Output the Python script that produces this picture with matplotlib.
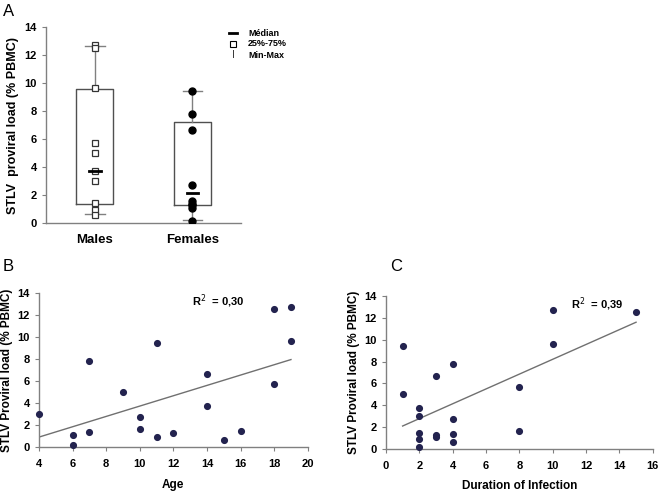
import numpy as np
import matplotlib
matplotlib.use("Agg")
import matplotlib.pyplot as plt

plt.rcParams['font.family'] = ['Liberation Sans', 'DejaVu Sans']

# Panel A: proviral load by sex
males = [12.7, 12.55, 9.65, 5.7, 5.0, 3.75, 3.0, 1.45, 0.95, 0.6]
females = [9.45, 7.8, 6.65, 2.75, 1.6, 1.35, 1.3, 1.1, 0.15]
groups = ['Males', 'Females']
box_q1 = [1.4, 1.28]
box_q3 = [9.6, 7.2]
box_med = [3.75, 2.15]
box_min = [0.65, 0.2]
box_max = [12.65, 9.42]

# Panel B: load vs age
age = [4, 6, 6, 7, 7, 9, 10, 10, 11, 11, 12, 14, 14, 15, 16, 18, 18, 19, 19]
load_age = [3.0, 1.1, 0.15, 7.8, 1.35, 5.0, 2.75, 1.6, 9.45, 0.95, 1.3, 6.65,
            3.75, 0.6, 1.45, 12.55, 5.7, 12.7, 9.65]
fit_age_x = [4, 19]
fit_age_y = [0.9, 7.95]

# Panel C: load vs duration of infection
duration = [1, 1, 2, 2, 2, 2, 2, 3, 3, 3, 4, 4, 4, 4, 8, 8, 10, 10, 15]
load_dur = [9.45, 5.0, 3.75, 3.0, 1.45, 0.95, 0.15, 6.65, 1.3, 1.1, 7.8, 2.75,
            1.35, 0.6, 5.7, 1.6, 12.7, 9.65, 12.55]
fit_dur_x = [1, 15]
fit_dur_y = [2.1, 11.6]

spine_col = '#808080'
dot_col = '#23234f'
line_col = '#707070'

fig = plt.figure(figsize=(6.62, 4.95), dpi=100)


def style(ax):
    for s in ['top', 'right']:
        ax.spines[s].set_visible(False)
    for s in ['left', 'bottom']:
        ax.spines[s].set_color(spine_col)
        ax.spines[s].set_linewidth(1.0)
    ax.tick_params(colors=spine_col, length=3, width=0.8, labelsize=8)
    for lab in ax.get_xticklabels() + ax.get_yticklabels():
        lab.set_fontweight('bold')
        lab.set_color('black')


# ---- A ----
axA = fig.add_axes([0.0695, 0.549, 0.295, 0.396])
stats = []
for i in range(2):
    stats.append(dict(med=box_med[i], q1=box_q1[i], q3=box_q3[i],
                      whislo=box_min[i], whishi=box_max[i], fliers=[]))
axA.bxp(stats, positions=[1, 2], widths=0.38, showfliers=False,
        boxprops=dict(color='#505050', linewidth=1.0),
        whiskerprops=dict(color=spine_col, linewidth=1.0),
        capprops=dict(color=spine_col, linewidth=1.0),
        medianprops=dict(linewidth=0),
        capwidths=0.2)
axA.plot([1] * len(males), males, 's', mfc='white', mec='#333333', ms=4.6, mew=0.9, zorder=3)
axA.plot([2] * len(females), females, 'o', color='black', ms=5, zorder=3)
for i, pos in enumerate([1, 2]):
    axA.plot([pos - 0.06, pos + 0.06], [box_med[i]] * 2, color='black', lw=2, zorder=4)
axA.set_xlim(0.5, 2.5)
axA.set_ylim(0, 14)
axA.set_yticks(range(0, 15, 2))
axA.set_xticks([1, 2])
axA.set_xticklabels(groups)
axA.set_ylabel('STLV  proviral load (% PBMC)', fontsize=9, fontweight='bold')
style(axA)
axA.tick_params(axis='x', length=0, pad=8)
for lab in axA.get_xticklabels():
    lab.set_fontsize(9.5)

# legend drawn by hand
leg_items = [('_', 'Médian'), ('s', '25%-75%'), ('I', 'Min-Max')]
for k, (m, t) in enumerate(leg_items):
    y = 1 - (33 + 11 * k) / 495
    if m == '_':
        fig.lines.append(plt.Line2D([229 / 662, 237 / 662], [y, y], color='black', lw=2,
                                    transform=fig.transFigure))
    elif m == 's':
        fig.lines.append(plt.Line2D([233 / 662], [y], marker='s', mfc='white', mec='black',
                                    ms=4.5, mew=0.8, transform=fig.transFigure))
    else:
        fig.text(233 / 662, y, 'I', fontsize=7.5, ha='center', va='center', color='#333333')
    fig.text(248 / 662, y, t, fontsize=6.5, fontweight='bold', ha='left', va='center')

# ---- B ----
axB = fig.add_axes([0.0589, 0.097, 0.406, 0.311])
axB.scatter(age, load_age, s=17, color=dot_col, zorder=3, clip_on=False)
axB.plot(fit_age_x, fit_age_y, color=line_col, lw=1.0)
axB.set_xlim(4, 20)
axB.set_ylim(0, 14)
axB.set_xticks(range(4, 21, 2))
axB.set_yticks(range(0, 15, 2))
axB.set_xlabel('Age', fontsize=8.5, fontweight='bold', labelpad=7)
axB.set_ylabel('STLV Proviral load (% PBMC)', fontsize=8.5, fontweight='bold', labelpad=3)
axB.text(13.1, 12.9, 'R$^{2}$  = 0,30', fontsize=8, fontweight='bold')
style(axB)
axB.tick_params(axis='x', pad=6)

# ---- C ----
axC = fig.add_axes([0.583, 0.093, 0.403, 0.309])
axC.scatter(duration, load_dur, s=17, color=dot_col, zorder=3, clip_on=False)
axC.plot(fit_dur_x, fit_dur_y, color=line_col, lw=1.0)
axC.set_xlim(0, 16)
axC.set_ylim(0, 14)
axC.set_xticks(range(0, 17, 2))
axC.set_yticks(range(0, 15, 2))
axC.set_xlabel('Duration of Infection', fontsize=8.5, fontweight='bold', labelpad=6)
axC.set_ylabel('STLV Proviral load (% PBMC)', fontsize=8.5, fontweight='bold', labelpad=3)
axC.text(11.1, 12.9, 'R$^{2}$  = 0,39', fontsize=8, fontweight='bold')
style(axC)
axC.tick_params(axis='x', pad=6)

# panel letters
fig.text(3 / 662, 1 - 16 / 495, 'A', fontsize=12)
fig.text(3 / 662, 1 - 271 / 495, 'B', fontsize=12)
fig.text(390 / 662, 1 - 271 / 495, 'C', fontsize=12)

fig.savefig('out.png', dpi=100)
